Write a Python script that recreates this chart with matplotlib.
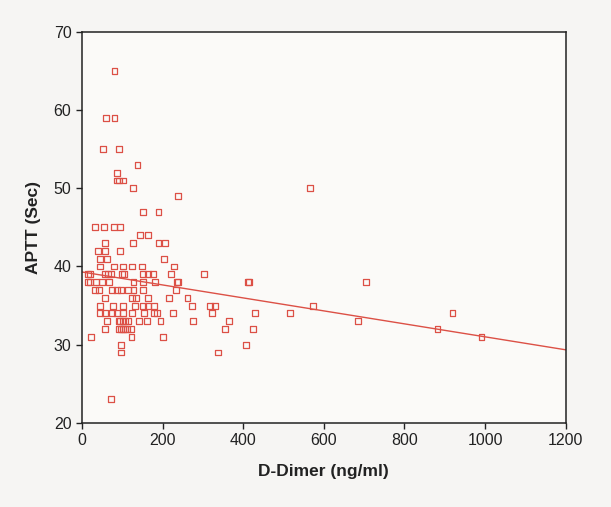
import numpy as np
import matplotlib
matplotlib.use("Agg")
import matplotlib.pyplot as plt

plt.rcParams['font.family'] = ['Liberation Sans', 'DejaVu Sans']

# APTT value -> D-Dimer values
points_by_aptt = {
    65: [81],
    59: [59, 81],
    55: [53, 93],
    53: [138],
    52: [86],
    51: [86, 93, 101],
    50: [126, 566],
    49: [239],
    47: [151, 190],
    45: [32, 55, 80, 94],
    44: [144, 165],
    43: [58, 126, 190, 207],
    42: [39, 58, 95],
    41: [45, 63, 203],
    40: [45, 80, 103, 125, 150, 228],
    39: [16, 21, 58, 65, 72, 100, 104, 151, 165, 177, 222, 303],
    38: [16, 20, 35, 50, 68, 128, 151, 182, 235, 238, 411, 415, 704],
    37: [32, 42, 75, 86, 96, 114, 128, 152, 233],
    36: [57, 124, 134, 164, 216, 262],
    35: [44, 77, 103, 132, 152, 165, 178, 274, 317, 331, 573],
    34: [44, 58, 75, 88, 103, 124, 154, 178, 187, 226, 323, 429, 517, 919],
    33: [62, 91, 95, 103, 108, 114, 141, 162, 195, 275, 365, 685],
    32: [58, 91, 96, 101, 108, 113, 122, 355, 425, 882],
    31: [22, 123, 201, 991],
    30: [98, 407],
    29: [98, 337],
    23: [73],
}
ddimer = [x for y, xs in points_by_aptt.items() for x in xs]
aptt = [y for y, xs in points_by_aptt.items() for x in xs]

fit_intercept = 39.3
fit_slope = -0.0083

x_ticks = [0, 200, 400, 600, 800, 1000, 1200]
y_ticks = [20, 30, 40, 50, 60, 70]

red = '#dc5046'

fig = plt.figure(figsize=(6.11, 5.07), dpi=100, facecolor='#f6f5f3')
ax = fig.add_axes([0.134, 0.166, 0.792, 0.771], facecolor='#fbfaf8')

ax.scatter(ddimer, aptt, marker='s', s=18, facecolors='none',
           edgecolors=red, linewidths=0.9, zorder=3)

line_x = np.array([0, 1200])
ax.plot(line_x, fit_intercept + fit_slope * line_x, color=red, lw=1.0, zorder=2)

ax.set_xlim(0, 1200)
ax.set_ylim(20, 70)
ax.set_xticks(x_ticks)
ax.set_yticks(y_ticks)
ax.tick_params(direction='out', length=4, width=1, labelsize=11.5, colors='#222222')
for s in ax.spines.values():
    s.set_color('#222222')
    s.set_linewidth(1.1)

ax.set_xlabel('D-Dimer (ng/ml)', fontsize=12.5, fontweight='bold', labelpad=11, color='#222222')
ax.set_ylabel('APTT (Sec)', fontsize=12.5, fontweight='bold', labelpad=9, color='#222222')

fig.savefig('out.png', dpi=100, facecolor=fig.get_facecolor())
